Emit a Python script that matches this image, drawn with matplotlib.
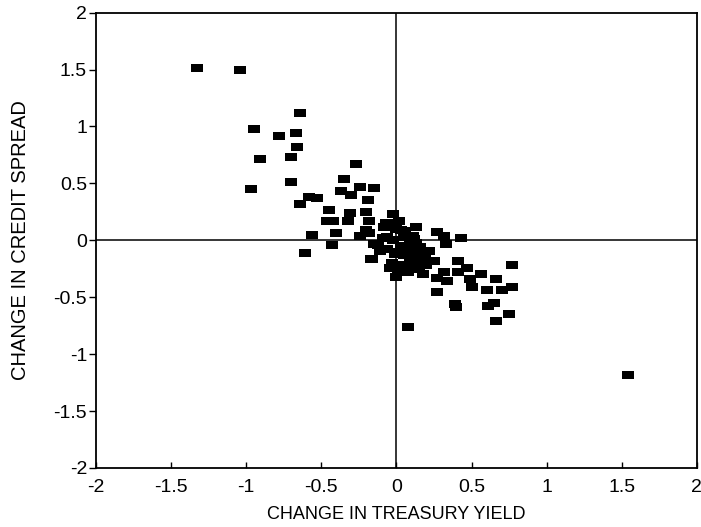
import matplotlib.pyplot as plt

# change in treasury yield (x) and change in credit spread (y)
treasury_change = [
    -1.33, -1.04, -0.95, -0.91, -0.97, -0.64, -0.78, -0.67, -0.66, -0.70,
    -0.70, -0.64, -0.61, -0.27, -0.35, -0.37, -0.30, -0.24, -0.15, -0.19,
    -0.58, -0.53, -0.45, -0.46, -0.42, -0.31, -0.20, -0.32, -0.18, -0.56,
    -0.40, -0.43, -0.20, -0.15, -0.16, -0.02, -0.04, -0.06, -0.24, -0.18,
    -0.07, 0.02, 0.13, 0.27, 0.32, 0.43, 0.33, -0.17, -0.11, -0.04,
    0.00, 0.08, 0.18, 0.25, 0.22, 0.14, 0.07, 0.05, -0.02, 0.09,
    0.27, 0.32, 0.34, 0.27, 0.41, 0.47, 0.41, 0.49, 0.50, 0.56,
    0.39, 0.40, 0.60, 0.66, 0.70, 0.77, 0.61, 0.65, 0.77, 0.75,
    0.66, 0.08, 1.54, 0.03, 0.10, 0.12, -0.01, 0.04, 0.15, 0.19,
    -0.09, 0.06, 0.11, 0.02, -0.12, 0.17, 0.20, 0.00, 0.13, -0.03,
    0.05, 0.09, 0.01, -0.06, 0.16, 0.11, 0.03, -0.08, 0.07, 0.12,
]
spread_change = [
    1.51, 1.50, 0.98, 0.71, 0.45, 1.12, 0.92, 0.94, 0.82, 0.73,
    0.51, 0.32, -0.11, 0.67, 0.54, 0.43, 0.40, 0.47, 0.46, 0.35,
    0.38, 0.37, 0.27, 0.17, 0.17, 0.24, 0.25, 0.17, 0.17, 0.05,
    0.06, -0.04, 0.09, -0.03, -0.16, 0.23, 0.15, 0.03, 0.04, 0.06,
    0.15, 0.17, 0.12, 0.07, 0.04, 0.02, -0.03, -0.16, -0.09, -0.24,
    -0.32, -0.28, -0.30, -0.18, -0.09, -0.12, -0.09, 0.03, 0.00, -0.03,
    -0.33, -0.28, -0.36, -0.45, -0.18, -0.24, -0.28, -0.34, -0.41, -0.30,
    -0.56, -0.59, -0.44, -0.34, -0.44, -0.41, -0.58, -0.55, -0.22, -0.65,
    -0.71, -0.76, -1.18, -0.05, -0.15, -0.20, -0.12, -0.22, -0.25, -0.14,
    0.02, 0.08, 0.04, -0.10, -0.04, -0.18, -0.22, 0.10, -0.02, -0.20,
    -0.13, -0.17, -0.27, -0.08, -0.06, -0.07, 0.09, 0.12, -0.23, 0.01,
]

fig = plt.figure(figsize=(7.01, 5.27), dpi=100)
ax = fig.add_axes([0.137, 0.112, 0.857, 0.864])
plt.rcParams['font.family'] = ['Liberation Sans', 'DejaVu Sans']

# zero lines
ax.axhline(0, color='black', lw=1.1, zorder=1)
ax.axvline(0, color='black', lw=1.1, zorder=1)

# rectangular markers, a bit wider than tall
rect = [(-1, -0.78), (1, -0.78), (1, 0.78), (-1, 0.78), (-1, -0.78)]
ax.scatter(treasury_change, spread_change, marker=rect, s=68,
           color='black', linewidths=0, zorder=2)

ax.set_xlim(-2, 2)
ax.set_ylim(-2, 2)
ticks = [-2, -1.5, -1, -0.5, 0, 0.5, 1, 1.5, 2]
labels = ['-2', '-1.5', '-1', '-0.5', '0', '0.5', '1', '1.5', '2']
ax.set_xticks(ticks)
ax.set_xticklabels(labels, family=['Liberation Sans'], fontsize=14)
ax.set_yticks(ticks)
ax.set_yticklabels(labels, family=['Liberation Sans'], fontsize=14)
ax.tick_params(axis='x', direction='in', length=4, width=1, pad=8)
ax.tick_params(axis='y', direction='out', length=5, width=1, pad=1.5)
for s in ax.spines.values():
    s.set_linewidth(1.3)
    s.set_color('black')

ax.set_xlabel('CHANGE IN TREASURY YIELD', family=['Liberation Sans'],
              fontsize=13, labelpad=7)
ax.set_ylabel('CHANGE IN CREDIT SPREAD', family=['Liberation Sans'],
              fontsize=14.5, labelpad=17)

plt.savefig('out.png', dpi=100)
